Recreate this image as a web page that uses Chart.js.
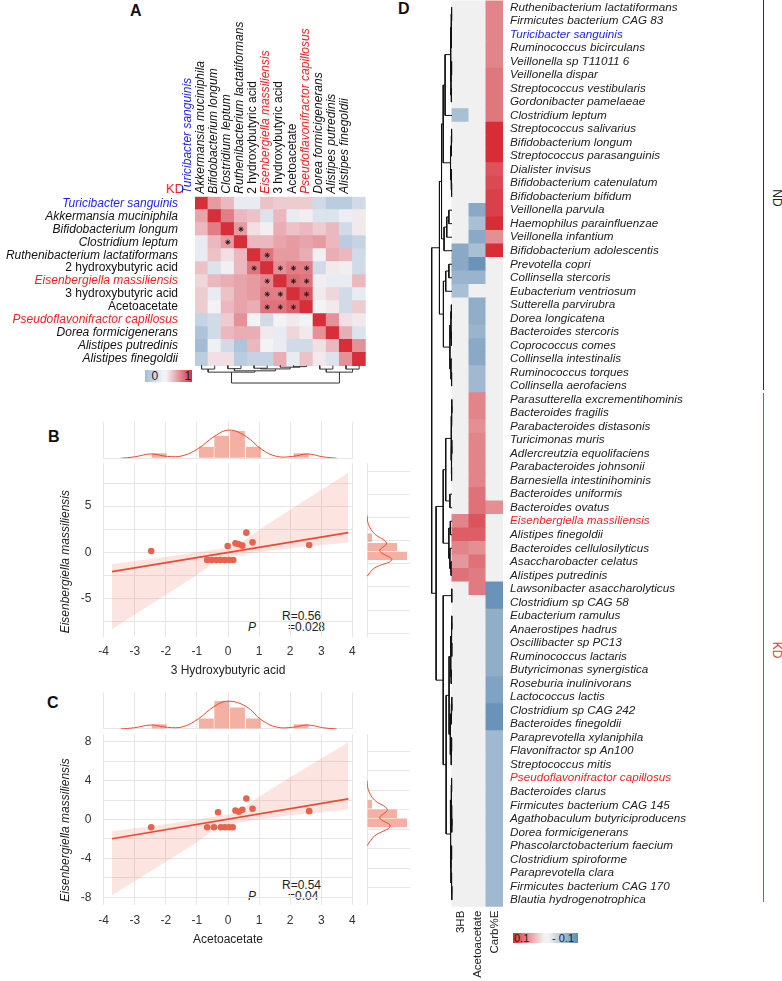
<!DOCTYPE html>
<html>
<head>
<meta charset="utf-8">
<script src="https://cdn.jsdelivr.net/npm/chart.js@4.4.1/dist/chart.umd.min.js"></script>
<style>
  body { margin: 0; background: #fff; width: 782px; height: 981px; position: relative; overflow: hidden;
         font-family: "Liberation Sans", Arial, Helvetica, sans-serif; }
  canvas, .t, .bar { position: absolute; }
  .t { white-space: nowrap; font-size: 12px; line-height: 12px; color: #222; }
  .b { font-weight: bold; font-size: 16px; line-height: 16px; color: #111; }
  .i { font-style: italic; }
  .rot { transform: translate(-50%, -50%) rotate(90deg); }
</style>
</head>
<body>
<div class="t b" style="left:130px;top:3px">A</div>
<div class="t b" style="left:48px;top:429px">B</div>
<div class="t b" style="left:47px;top:695px">C</div>
<div class="t b" style="left:398px;top:1px">D</div>

<div class="t" style="left:166px;top:182px;font-size:13px;line-height:13px;color:#ee2222">KD</div>
<div class="bar" style="left:145px;top:370px;width:47px;height:11.5px;background:linear-gradient(to right,#9fbdd8 0%,#f3f3f6 38%,#f3f3f6 45%,#d62f3a 100%)"></div>
<div class="t" style="left:151.5px;top:370px">0</div>
<div class="t" style="left:184.5px;top:370px">1</div>

<div class="t" style="left:282px;top:609.5px">R=0.56</div>
<div class="t i" style="left:248px;top:620.5px">P</div>
<div class="t" style="left:288px;top:620.5px">=0.028</div>
<div class="t" style="left:282px;top:878.5px">R=0.54</div>
<div class="t i" style="left:248px;top:889.5px">P</div>
<div class="t" style="left:288px;top:889.5px">=0.04</div>

<div class="bar" style="left:513px;top:933px;width:65px;height:10px;background:linear-gradient(to right,#d62f3a 0%,#e98a92 22%,#f2f2f2 48%,#f2f2f2 55%,#5b8db8 100%)"></div>
<div class="t" style="left:514px;top:932.5px;font-size:11px;line-height:11px">0.1</div>
<div class="t" style="left:552px;top:932.5px;font-size:11px;line-height:11px">- 0.1</div>

<div class="bar" style="left:762.5px;top:0px;width:1.5px;height:390px;background:#333"></div>
<div class="bar" style="left:762.5px;top:393px;width:1.5px;height:509px;background:#e8383d"></div>
<div class="t rot" style="left:776.5px;top:198px;color:#222">ND</div>
<div class="t rot" style="left:776.5px;top:650px;color:#e8383d">KD</div>

<script>
// ---------- panel A: correlations in KD ----------
const taxaA = ['Turicibacter sanguinis', 'Akkermansia muciniphila', 'Bifidobacterium longum', 'Clostridium leptum',
  'Ruthenibacterium lactatiformans', '2 hydroxybutyric acid', 'Eisenbergiella massiliensis', '3 hydroxybutyric acid',
  'Acetoacetate', 'Pseudoflavonifractor capillosus', 'Dorea formicigenerans', 'Alistipes putredinis', 'Alistipes finegoldii'];
const uprightA = [5, 7, 8];
const blueA = [0];
const redA = [6, 9];
const corrA = [
  [1, .45, .3, -.05, -.05, .25, .2, .2, .2, -.15, -.25, -.25, -.15],
  [.4, 1, .6, .3, .25, -.1, .3, -.05, .03, -.1, -.1, -.03, .05],
  [.3, .6, 1, .45, .1, .02, .35, .25, .3, .2, .3, -.15, .05],
  [-.05, .3, .45, 1, .3, .3, .4, .45, .4, .45, .3, -.25, -.2],
  [-.05, .25, .1, .3, 1, .65, .45, .45, .35, .02, .35, .3, -.15],
  [.25, -.1, .02, .3, .65, 1, .5, .6, .6, -.15, .05, .03, -.15],
  [.15, .3, .35, .4, .45, .55, 1, .7, .65, .03, -.05, -.05, .3],
  [.2, -.05, .25, .4, .45, .6, .6, 1, .8, .05, .15, -.15, -.05],
  [.2, 0, .3, .4, .35, .65, .65, .75, 1, 0, .05, -.15, .2],
  [-.2, -.15, .2, .5, 0, -.15, 0, .05, 0, 1, .5, .1, .05],
  [-.3, -.15, .3, .35, .35, .05, -.05, .15, .05, .5, 1, .35, -.1],
  [-.35, -.02, -.15, -.3, .3, 0, -.05, -.15, -.15, .1, .3, 1, .5],
  [-.25, .1, .1, -.25, -.2, -.2, .35, -.05, .25, .05, -.1, .5, 1]
];
const starsA = [[2, 3], [3, 2], [4, 5], [5, 4], [5, 6], [5, 7], [5, 8], [6, 5], [6, 7], [6, 8], [7, 5], [7, 6], [7, 8], [8, 5], [8, 6], [8, 7]];
// [height, left, right]; leaves are column indexes
const treeA = [2.0,
  [0.75, [0.4, 0, 1], [0.6, [0.35, 2, 3], [0.38, [0.3, 4, 5], [0.18, 6, [0.12, 7, 8]]]]],
  [0.75, [0.4, 9, 10], [0.4, 11, 12]]];

// ---------- panel B: 3 hydroxybutyric acid ----------
const hbX = [-2.47, -0.67, -0.52, -0.38, -0.24, -0.1, 0.04, 0.17, -0.01, 0.24, 0.35, 0.46, 0.59, 0.79, 2.61];
const hbY = [0.14, -0.83, -0.83, -0.83, -0.83, -0.83, -0.83, -0.83, 0.69, 0.97, 0.87, 0.72, 2.13, 1.08, 0.79];
const hbFitX = [-3.73, 3.87];
const hbFitY = [-2.09, 2.13];
const hbBandX = [-3.73, -2, -1, -0.4, 0, 0.4, 1, 2, 3.87];
const hbBandHi = [-1.26, -0.5, 0.0, 0.3, 0.5, 0.95, 2.45, 4.6, 8.63];
const hbBandLo = [-8.34, -4.6, -2.45, -0.95, -0.5, -0.3, 0.0, 0.45, 1.05];
const hbHistX = [-2.215, -0.695, -0.2, 0.305, 0.815, 2.355];
const hbHist = [0.133, 0.311, 0.604, 0.729, 0.311, 0.133];
const hbDensX = [-3.45, -3.0, -2.47, -1.95, -1.45, -0.94, -0.45, 0.04, 0.59, 1.08, 1.57, 2.07, 2.56, 3.05, 3.5];
const hbDens = [0.0, 0.04, 0.116, 0.05, 0.07, 0.27, 0.58, 0.756, 0.58, 0.24, 0.05, 0.05, 0.116, 0.04, 0.0];
const hbSideY = [1.6, 0.57, -0.38];
const hbSide = [0.067, 0.4, 0.533];
const hbSideDensY = [4.0, 3.0, 2.0, 1.0, 0.15, -0.8, -1.7, -2.6];
const hbSideDens = [0.0, 0.02, 0.1, 0.26, 0.17, 0.33, 0.1, 0.0];

// ---------- panel C: acetoacetate ----------
const acX = [-2.47, -0.67, -0.45, -0.23, -0.1, 0.03, 0.15, -0.32, 0.24, 0.35, 0.46, 0.59, 0.79, 2.61];
const acY = [-0.79, -0.79, -0.79, -0.79, -0.79, -0.79, -0.79, 0.75, 0.92, 0.79, 1.0, 2.16, 1.1, 0.86];
const acFitX = [-3.73, 3.87];
const acFitY = [-1.99, 2.12];
const acBandX = [-3.73, -2, -1, -0.4, 0, 0.4, 1, 2, 3.87];
const acBandHi = [-1.2, -0.5, 0.0, 0.3, 0.5, 0.92, 2.35, 4.35, 7.95];
const acBandLo = [-7.8, -4.35, -2.35, -0.92, -0.5, -0.3, 0.0, 0.45, 1.03];
const acHistX = [-2.215, -0.695, -0.2, 0.305, 0.815, 2.355];
const acHist = [0.124, 0.284, 0.747, 0.578, 0.284, 0.124];
const acDensX = [-3.45, -3.0, -2.47, -1.95, -1.45, -0.94, -0.45, 0.0, 0.59, 1.08, 1.57, 2.07, 2.56, 3.05, 3.5];
const acDens = [0.0, 0.035, 0.107, 0.045, 0.06, 0.28, 0.6, 0.747, 0.6, 0.24, 0.05, 0.045, 0.107, 0.035, 0.0];
const acSideY = [1.58, 0.6, -0.34];
const acSide = [0.067, 0.4, 0.533];
const acSideDensY = [4.0, 3.0, 2.0, 1.03, 0.17, -0.68, -1.7, -2.7];
const acSideDens = [0.0, 0.02, 0.1, 0.27, 0.17, 0.31, 0.1, 0.0];

const xTicksBC = [-4, -3, -2, -1, 0, 1, 2, 3, 4];
const yTicksB = [-7.5, -5, -2.5, 0, 2.5, 5, 7.5];
const yLabelsB = [-5, 0, 5];
const yTicksC = [-8, -6, -4, -2, 0, 2, 4, 6, 8];
const yLabelsC = [-8, -4, 0, 4, 8];

// ---------- panel D: associations with 3HB, acetoacetate and Carb%E ----------
const colsD = ['3HB', 'Acetoacetate', 'Carb%E'];
const rowsD = ['Ruthenibacterium lactatiformans', 'Firmicutes bacterium CAG 83', 'Turicibacter sanguinis',
  'Ruminococcus bicirculans', 'Veillonella sp T11011 6', 'Veillonella dispar', 'Streptococcus vestibularis',
  'Gordonibacter pamelaeae', 'Clostridium leptum', 'Streptococcus salivarius', 'Bifidobacterium longum',
  'Streptococcus parasanguinis', 'Dialister invisus', 'Bifidobacterium catenulatum', 'Bifidobacterium bifidum',
  'Veillonella parvula', 'Haemophilus parainfluenzae', 'Veillonella infantium', 'Bifidobacterium adolescentis',
  'Prevotella copri', 'Collinsella stercoris', 'Eubacterium ventriosum', 'Sutterella parvirubra', 'Dorea longicatena',
  'Bacteroides stercoris', 'Coprococcus comes', 'Collinsella intestinalis', 'Ruminococcus torques',
  'Collinsella aerofaciens', 'Parasutterella excrementihominis', 'Bacteroides fragilis', 'Parabacteroides distasonis',
  'Turicimonas muris', 'Adlercreutzia equolifaciens', 'Parabacteroides johnsonii', 'Barnesiella intestinihominis',
  'Bacteroides uniformis', 'Bacteroides ovatus', 'Eisenbergiella massiliensis', 'Alistipes finegoldii',
  'Bacteroides cellulosilyticus', 'Asaccharobacter celatus', 'Alistipes putredinis', 'Lawsonibacter asaccharolyticus',
  'Clostridium sp CAG 58', 'Eubacterium ramulus', 'Anaerostipes hadrus', 'Oscillibacter sp PC13',
  'Ruminococcus lactaris', 'Butyricimonas synergistica', 'Roseburia inulinivorans', 'Lactococcus lactis',
  'Clostridium sp CAG 242', 'Bacteroides finegoldii', 'Paraprevotella xylaniphila', 'Flavonifractor sp An100',
  'Streptococcus mitis', 'Pseudoflavonifractor capillosus', 'Bacteroides clarus', 'Firmicutes bacterium CAG 145',
  'Agathobaculum butyriciproducens', 'Dorea formicigenerans', 'Phascolarctobacterium faecium',
  'Clostridium spiroforme', 'Paraprevotella clara', 'Firmicutes bacterium CAG 170', 'Blautia hydrogenotrophica'];
const blueD = [2];
const redD = [38, 57];
const hb3D = [0, 0, 0, 0, 0, 0, 0, 0, -0.045,
  0, 0, 0, 0, 0, 0, 0, 0, 0,
  -0.065, -0.065, -0.055, -0.045,
  0, 0, 0, 0, 0, 0, 0, 0, 0, 0, 0, 0, 0, 0, 0, 0,
  0.055, 0.075, 0.055, 0.045, 0.065,
  0, 0, 0, 0, 0, 0, 0, 0, 0, 0, 0, 0, 0, 0, 0, 0, 0, 0, 0, 0, 0, 0, 0, 0];
const acetoD = [0, 0, 0, 0, 0, 0, 0, 0, 0, 0, 0, 0, 0, 0, 0,
  -0.065, -0.045, -0.065, -0.045,
  -0.085, -0.055, 0,
  -0.06, -0.06, -0.055, -0.065, -0.065, -0.05, -0.05,
  0.055, 0.055, 0.05, 0.055, 0.055, 0.055, 0.055, 0.065, 0.065,
  0.08, 0.075, 0.05, 0.065, 0.06,
  0.06,
  0, 0, 0, 0, 0, 0, 0, 0, 0, 0, 0, 0, 0, 0, 0, 0, 0, 0, 0, 0, 0, 0, 0];
const carbD = [0.055, 0.055, 0.055, 0.055, 0.055, 0.062, 0.062, 0.062, 0.062,
  0.1, 0.1, 0.1, 0.08, 0.085, 0.09, 0.09, 0.1, 0.05, 0.1,
  0, 0, 0, 0, 0, 0, 0, 0, 0, 0, 0, 0, 0, 0, 0, 0, 0, 0,
  0.05,
  0, 0, 0, 0, 0,
  -0.085, -0.085,
  -0.06, -0.06, -0.06, -0.06, -0.06,
  -0.07, -0.07,
  -0.085, -0.085,
  -0.05, -0.05, -0.05, -0.05, -0.05, -0.05, -0.05, -0.05, -0.05, -0.05, -0.05, -0.05, -0.05];
// [height, upper, lower]; leaves are row indexes
const treeD = [0.97,
  [0.6,
    [0.5,
      [0.42,
        [0.33, [0.07, [0.04, [0.02, 0, 1], [0.03, 2, 3]], [0.05, [0.02, 4, 5], [0.03, 6, 7]]], 8],
        [0.07, [0.03, [0.02, 9, 10], 11], [0.04, 12, [0.02, 13, 14]]]],
      [0.38, [0.25, [0.15, 15, 16], 17], 18]],
    [0.41,
      [0.3, [0.15, 19, 20], 21],
      [0.1, [0.05, [0.03, 22, 23], [0.03, 24, 25]], [0.05, 26, [0.02, 27, 28]]]]],
  [0.76,
    [0.42,
      [0.3, [0.04, [0.02, [0.01, 29, 30], 31], [0.03, [0.01, 32, 33], [0.02, 34, 35]]], [0.1, 36, 37]],
      [0.15, [0.08, 38, 39], [0.1, 40, [0.05, 41, 42]]]],
    [0.42,
      [0.01, 43, 44],
      [0.28,
        [0.14, [0.06, [0.03, [0.01, 45, 46], [0.01, 47, 48]], [0.04, 49, 50]],
          [0.08, [0.03, [0.01, 51, 52], 53], [0.04, [0.02, 54, 55], 56]]],
        [0.08, [0.04, [0.02, 57, 58], [0.02, 59, [0.01, 60, 61]]],
          [0.05, [0.02, 62, 63], [0.03, 64, [0.01, 65, 66]]]]]]]];

// ---------- styles ----------
const BLUE = '#2323ee';
const RED = '#ee2222';
const GRID = '#e6e6e6';
const PTS = '#e8634e';
const FIT = '#eb4a30';
const HIST = 'rgba(238,124,104,0.6)';
const BAND = 'rgba(240,120,105,0.2)';

Chart.defaults.font.family = '"Liberation Sans", Arial, Helvetica, sans-serif';
Chart.defaults.font.size = 12;
Chart.defaults.color = '#222';
Chart.defaults.animation = false;
Chart.defaults.responsive = false;
Chart.defaults.events = [];
Chart.defaults.plugins.legend.display = false;
Chart.defaults.plugins.tooltip.enabled = false;

function canvasAt(left, top, width, height) {
  const c = document.createElement('canvas');
  c.width = width;
  c.height = height;
  c.style.left = left + 'px';
  c.style.top = top + 'px';
  document.body.appendChild(c);
  return c;
}
const ticksAt = values => ax => { ax.ticks = values.map(v => ({ value: v })); };
// fixed axis sizes; label overhang must not shrink the plot area
const fixW = w => ax => { ax.width = w; ax.paddingTop = 0; ax.paddingBottom = 0; };
const fixH = h => ax => { ax.height = h; ax.paddingLeft = 0; ax.paddingRight = 0; };
const mix = (a, b, t) => 'rgb(' + a.map((v, i) => Math.round(v + (b[i] - v) * t)).join(',') + ')';

function colorA(v) {
  return v >= 0 ? mix([243, 243, 246], [214, 47, 58], Math.min(1, v))
                : mix([243, 243, 246], [140, 172, 205], Math.min(1, -v / 0.45));
}
function colorD(v) {
  if (v === 0) return '#f0f0f0';
  return v > 0 ? mix([240, 240, 240], [214, 45, 55], Math.min(1, v / 0.1))
               : mix([240, 240, 240], [82, 130, 175], Math.min(1, -v / 0.1));
}
// line segments of a dendrogram, one bracket per merge, separated by gaps
function dendro(tree, toXY) {
  const out = [];
  (function walk(n) {
    if (typeof n === 'number') return { p: n, h: 0 };
    const a = walk(n[1]), b = walk(n[2]), h = n[0];
    out.push(toXY(a.p, a.h), toXY(a.p, h), toXY(b.p, h), toXY(b.p, b.h), { x: null, y: null });
    return { p: (a.p + b.p) / 2, h };
  })(tree);
  return out;
}
const hidden = { display: false, drawTicks: false };

// ---------- A ----------
const cellsA = [], fillA = [];
corrA.forEach((row, r) => row.forEach((v, c) => {
  cellsA.push({ x: c + 0.5, y: [r, r + 1] });
  fillA.push(colorA(v));
}));
const labelColorA = ctx => blueA.includes(ctx.index) ? BLUE : redA.includes(ctx.index) ? RED : '#111';
const labelFontA = ctx => ({ size: 12, style: uprightA.includes(ctx.index) ? 'normal' : 'italic' });
const centersA = taxaA.map((_, i) => i + 0.5);

new Chart(canvasAt(0, 0, 400, 390), {
  type: 'bar',
  data: {
    datasets: [
      { type: 'scatter', data: starsA.map(([r, c]) => ({ x: c + 0.5, y: r + 0.5 })), pointStyle: 'star',
        pointRadius: 2.6, borderColor: '#1a1a1a', backgroundColor: '#1a1a1a', borderWidth: 0.9, order: 0 },
      { type: 'line', data: dendro(treeA, (p, h) => ({ x: p + 0.5, y: 13 + h * 0.67 })), borderColor: '#333',
        borderWidth: 1, pointRadius: 0, tension: 0, spanGaps: false, fill: false, order: 1 },
      { type: 'bar', data: cellsA, backgroundColor: fillA, borderWidth: 0, barPercentage: 1,
        categoryPercentage: 1, inflateAmount: 0.5, order: 2 }
    ]
  },
  options: {
    layout: { padding: { right: 34.3, bottom: 3.6 } },
    scales: {
      x: { type: 'linear', position: 'top', min: 0, max: 13, offset: false,
        afterBuildTicks: ticksAt(centersA), afterFit: fixH(196.7),
        grid: hidden, border: { display: false },
        ticks: { autoSkip: false, minRotation: 90, maxRotation: 90, padding: 3,
          callback: (v, i) => taxaA[i], color: labelColorA, font: labelFontA } },
      y: { type: 'linear', reverse: true, min: 0, max: 14.5, offset: false,
        afterBuildTicks: ticksAt(centersA), afterFit: fixW(195),
        grid: hidden, border: { display: false },
        ticks: { autoSkip: false, padding: 17, callback: (v, i) => taxaA[i], color: labelColorA, font: labelFontA } }
    }
  }
});

// ---------- B and C ----------
function scatterPanel(p) {
  const top = p.area;                 // top of the main panel
  const h = p.height;                 // height of the main panel
  const cTop = Math.floor(top - 5), cH = Math.ceil(h + 47);
  new Chart(canvasAt(50, cTop, 313, cH), {
    type: 'scatter',
    data: {
      datasets: [
        { data: p.x.map((x, i) => ({ x, y: p.y[i] })), pointRadius: 3.3, backgroundColor: PTS, borderWidth: 0, order: 0 },
        { type: 'line', data: p.fitX.map((x, i) => ({ x, y: p.fitY[i] })), borderColor: FIT, borderWidth: 1.6,
          pointRadius: 0, fill: false, order: 1 },
        { type: 'line', data: p.bandX.map((x, i) => ({ x, y: p.bandHi[i] })), borderColor: 'transparent',
          borderWidth: 0, pointRadius: 0, fill: '+1', backgroundColor: BAND, order: 2 },
        { type: 'line', data: p.bandX.map((x, i) => ({ x, y: p.bandLo[i] })), borderColor: 'transparent',
          borderWidth: 0, pointRadius: 0, fill: false, order: 3 }
      ]
    },
    options: {
      layout: { padding: { top: top - cTop, right: 10, bottom: cH - (top - cTop) - h - 41.5 } },
      scales: {
        x: { min: -4.02, max: 4.02, afterBuildTicks: ticksAt(xTicksBC), afterFit: fixH(41.5),
          grid: { color: GRID, drawTicks: false }, border: { display: false },
          ticks: { padding: 8, color: '#333', maxRotation: 0, autoSkip: false },
          title: { display: true, text: p.xTitle, padding: 0, color: '#222' } },
        y: { min: p.yMin, max: p.yMax, afterBuildTicks: ticksAt(p.yTicks), afterFit: fixW(53),
          grid: { color: GRID, drawTicks: false }, border: { display: false },
          ticks: { padding: 11.5, color: '#333', autoSkip: false,
            callback: v => p.yLabels.includes(v) ? String(v) : '' },
          title: { display: true, text: ' Eisenbergiella massiliensis', align: 'start',
            padding: { top: 8, bottom: 0 }, font: { size: 12, style: 'italic' }, color: '#222' } }
      }
    }
  });
  // top marginal: histogram and density of x
  const mTop = top - 41.6, tTop = Math.floor(mTop - 2);
  new Chart(canvasAt(101, tTop, 254, 42), {
    type: 'bar',
    data: {
      datasets: [
        { type: 'line', data: p.densX.map((x, i) => ({ x, y: p.dens[i] })), borderColor: FIT, borderWidth: 1,
          pointRadius: 0, tension: 0.4, fill: false, order: 0 },
        { type: 'bar', data: p.histX.map((x, i) => ({ x, y: p.hist[i] })), backgroundColor: HIST,
          borderColor: '#fff', borderWidth: { left: 0.6, right: 0.6, top: 0, bottom: 0 },
          barPercentage: 1, categoryPercentage: 1, order: 1 }
      ]
    },
    options: {
      layout: { padding: { left: 2, right: 2, top: mTop - tTop, bottom: 42 - (mTop - tTop) - 36.6 } },
      scales: {
        x: { type: 'linear', offset: false, min: -4.02, max: 4.02, afterBuildTicks: ticksAt(xTicksBC), afterFit: fixH(0),
          grid: { color: GRID, drawTicks: false, offset: false }, border: { display: false }, ticks: { display: false } },
        y: { type: 'linear', min: 0, max: 0.98, afterBuildTicks: ticksAt([0]), afterFit: fixW(0),
          grid: { color: GRID, drawTicks: false }, border: { display: false }, ticks: { display: false } }
      }
    }
  });
  // right marginal: histogram and density of y
  const rTop = Math.floor(top - 2), rH = Math.ceil(h + 4);
  new Chart(canvasAt(365, rTop, 47, rH), {
    type: 'bar',
    data: {
      datasets: [
        { type: 'line', data: p.sideDensY.map((y, i) => ({ x: p.sideDens[i], y })), borderColor: FIT, borderWidth: 1,
          pointRadius: 0, tension: 0.4, fill: false, order: 0 },
        { type: 'bar', indexAxis: 'y', data: p.sideY.map((y, i) => ({ y, x: p.side[i] })), backgroundColor: HIST,
          borderColor: '#fff', borderWidth: { top: 0.6, bottom: 0.6, left: 0, right: 0 },
          barPercentage: 1, categoryPercentage: 1, order: 1 }
      ]
    },
    options: {
      layout: { padding: { left: 2, right: 2, top: top - rTop, bottom: rH - (top - rTop) - h } },
      scales: {
        x: { type: 'linear', offset: false, min: 0, max: 0.573, afterBuildTicks: ticksAt([0]), afterFit: fixH(0),
          grid: { color: GRID, drawTicks: false, offset: false }, border: { display: false }, ticks: { display: false } },
        y: { type: 'linear', offset: false, min: p.yMin, max: p.yMax, afterBuildTicks: ticksAt(p.yTicks), afterFit: fixW(0),
          grid: { color: GRID, drawTicks: false }, border: { display: false }, ticks: { display: false } }
      }
    }
  });
}

scatterPanel({ area: 463.3, height: 173.4, xTitle: '3 Hydroxybutyric acid', x: hbX, y: hbY,
  fitX: hbFitX, fitY: hbFitY, bandX: hbBandX, bandHi: hbBandHi, bandLo: hbBandLo,
  histX: hbHistX, hist: hbHist, densX: hbDensX, dens: hbDens,
  sideY: hbSideY, side: hbSide, sideDensY: hbSideDensY, sideDens: hbSideDens,
  yMin: -9.14, yMax: 9.64, yTicks: yTicksB, yLabels: yLabelsB });
scatterPanel({ area: 734, height: 171, xTitle: 'Acetoacetate', x: acX, y: acY,
  fitX: acFitX, fitY: acFitY, bandX: acBandX, bandHi: acBandHi, bandLo: acBandLo,
  histX: acHistX, hist: acHist, densX: acDensX, dens: acDens,
  sideY: acSideY, side: acSide, sideDensY: acSideDensY, sideDens: acSideDens,
  yMin: -8.8, yMax: 8.8, yTicks: yTicksC, yLabels: yLabelsC });

// ---------- D ----------
const cellsD = [], fillD = [];
rowsD.forEach((name, r) => [hb3D, acetoD, carbD].forEach((col, c) => {
  cellsD.push({ y: r, x: [c, c + 1] });
  fillD.push(colorD(col[r]));
}));

new Chart(canvasAt(400, 0, 382, 981), {
  type: 'bar',
  data: {
    datasets: [
      { type: 'line', data: dendro(treeD, (p, h) => ({ x: -h * 1.231, y: p })), borderColor: '#111',
        borderWidth: 1, pointRadius: 0, tension: 0, spanGaps: false, fill: false, order: 0 },
      { type: 'bar', indexAxis: 'y', data: cellsD, backgroundColor: fillD, borderWidth: 0,
        barPercentage: 1, categoryPercentage: 1, inflateAmount: 0.5, order: 1 }
    ]
  },
  options: {
    layout: { padding: { left: 30.75, top: 0.5 } },
    scales: {
      x: { type: 'linear', min: -1.25, max: 3, offset: false,
        afterBuildTicks: ticksAt(colsD.map((_, i) => i + 0.5)), afterFit: fixH(74.3),
        grid: hidden, border: { display: false },
        ticks: { autoSkip: false, minRotation: 90, maxRotation: 90, padding: 4, color: '#222',
          font: { size: 11.5 }, callback: (v, i) => colsD[i] } },
      y: { type: 'linear', position: 'right', reverse: true, min: -0.5, max: 66.5, offset: false,
        afterBuildTicks: ticksAt(rowsD.map((_, i) => i)), afterFit: fixW(279),
        grid: hidden, border: { display: false },
        ticks: { autoSkip: false, padding: 7, font: { size: 11.7, style: 'italic' },
          color: ctx => blueD.includes(ctx.index) ? BLUE : redD.includes(ctx.index) ? RED : '#222',
          callback: (v, i) => rowsD[i] } }
    }
  }
});
</script>
</body>
</html>
